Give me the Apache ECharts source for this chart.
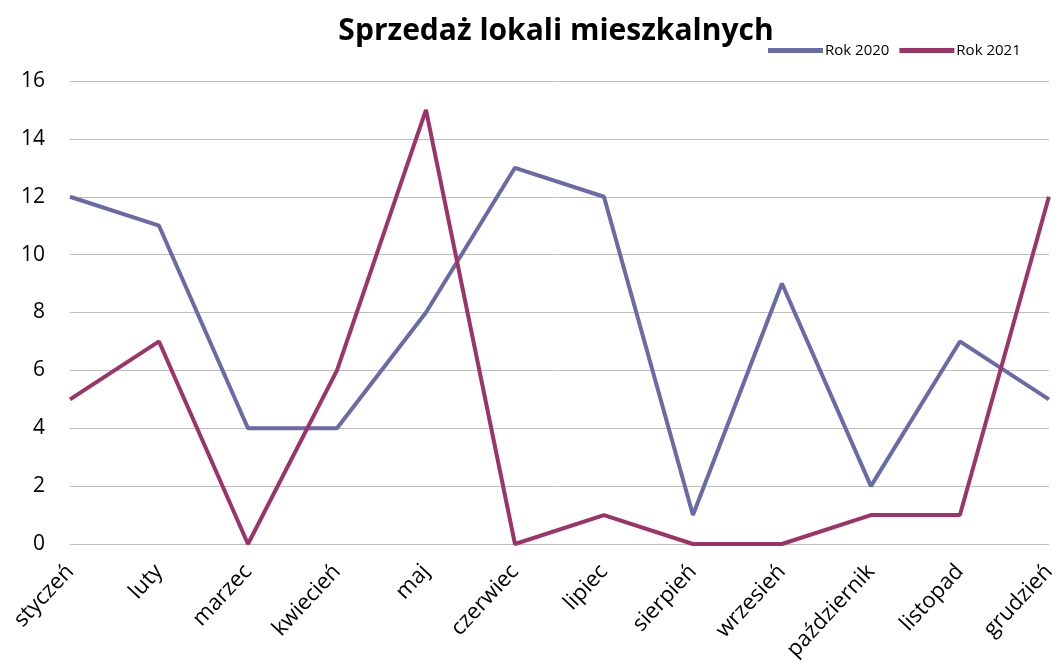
<!DOCTYPE html>
<html>
<head>
<meta charset="utf-8">
<script src="https://cdn.jsdelivr.net/npm/echarts@6/dist/echarts.min.js"></script>
<style>
  html, body { margin: 0; padding: 0; background: #fff; }
  #chart { width: 1059px; height: 666px; }
</style>
</head>
<body>
<div id="chart"></div>
<script>
const months = ["styczeń", "luty", "marzec", "kwiecień", "maj", "czerwiec", "lipiec", "sierpień", "wrzesień", "październik", "listopad", "grudzień"];
const rok2020 = [12, 11, 4, 4, 8, 13, 12, 1, 9, 2, 7, 5];
const rok2021 = [5, 7, 0, 6, 15, 0, 1, 0, 0, 1, 1, 12];
const seriesNames = ["Rok 2020", "Rok 2021"];
const colors = ["#6A6AA6", "#9D3467"];

const font = "'Open Sans', 'Noto Sans', sans-serif";
let mychart = echarts.init(document.getElementById("chart"));
let option = {
  animation: false,
  textStyle: { fontFamily: font },
  title: {
    text: "Sprzedaż lokali mieszkalnych",
    left: 551,
    textAlign: "center",
    top: 11,
    textStyle: { fontSize: 30, fontWeight: "bold", color: "#000", fontFamily: font },
  },
  legend: {
    data: seriesNames,
    left: 763,
    top: 38,
    icon: "rect",
    itemWidth: 55,
    itemHeight: 5,
    itemGap: 10,
    textStyle: { fontSize: 15, color: "#000", padding: [0, 0, 0, -3] },
  },
  grid: { left: 70, right: 9, top: 81, bottom: 122, containLabel: false },
  xAxis: {
    type: "category",
    data: months,
    boundaryGap: false,
    axisLine: { show: false },
    axisTick: { show: false },
    axisLabel: { rotate: 47, fontSize: 22, color: "#000", margin: 24, interval: 0 },
  },
  yAxis: {
    type: "value",
    min: 0,
    max: 16,
    interval: 2,
    axisLine: { show: false },
    axisTick: { show: false },
    axisLabel: { fontSize: 21, color: "#000", margin: 25 },
    splitLine: { lineStyle: { color: "#BDBDBD", width: 1 } },
  },
  series: [
    {
      name: seriesNames[0],
      type: "line",
      data: rok2020,
      symbol: "none",
      color: colors[0],
      lineStyle: { width: 4, color: colors[0] },
    },
    {
      name: seriesNames[1],
      type: "line",
      data: rok2021,
      symbol: "none",
      color: colors[1],
      lineStyle: { width: 4, color: colors[1] },
    },
  ],
};
mychart.setOption(option);
</script>
</body>
</html>
